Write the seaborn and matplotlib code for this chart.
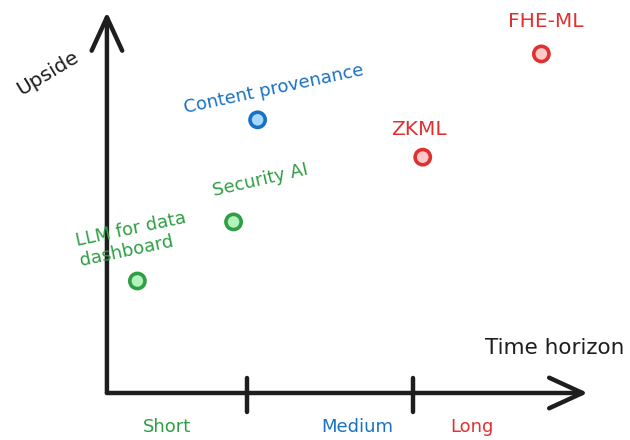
import pandas as pd
import seaborn as sns
import matplotlib.pyplot as plt

# opportunities: time horizon (x) vs upside (y)
names = ['LLM for data\ndashboard', 'Security AI', 'Content provenance', 'ZKML', 'FHE-ML']
horizon = ['Short', 'Short', 'Medium', 'Long', 'Long']
time_x = [0.19, 0.79, 0.94, 1.97, 2.71]
upside_y = [2.94, 4.49, 7.17, 6.19, 8.90]

# boundaries between short / medium / long on the time axis
boundaries = [0.873, 1.909]
horizon_labels = ['Short', 'Medium', 'Long']

edge = {'Short': '#2f9e44', 'Medium': '#1971c2', 'Long': '#e03131'}
fill = {'Short': '#b2f2bb', 'Medium': '#a5d8ff', 'Long': '#ffc9c9'}

df = pd.DataFrame({'name': names, 'horizon': horizon, 'x': time_x, 'y': upside_y})

sns.set_theme(style='white')
plt.rcParams['font.family'] = ['DejaVu Sans']

fig = plt.figure(figsize=(6.3, 4.4), dpi=100)
ax = fig.add_axes([0, 0, 1, 1])
ax.set_xlim(-0.667, 3.263)
ax.set_ylim(-1.234, 10.315)
ax.axis('off')

ink = '#1e1e1e'
arrow = dict(arrowstyle='->,head_length=1.2,head_width=0.55', color=ink, lw=3.2,
             mutation_scale=20, shrinkA=0, shrinkB=0, capstyle='round', joinstyle='round')
ax.annotate('', xy=(3.0, 0), xytext=(0, 0), arrowprops=arrow)
ax.annotate('', xy=(0, 10.0), xytext=(0, 0), arrowprops=arrow)
for b in boundaries:
    ax.plot([b, b], [0.39, -0.50], color=ink, lw=3.2, solid_capstyle='round')

sns.scatterplot(data=df, x='x', y='y', hue='horizon', palette=fill, s=120,
                linewidth=2.6, legend=False, ax=ax, zorder=3)
ax.collections[0].set_edgecolor([edge[h] for h in df['horizon']])

# point labels: offsets (points), rotation and size
offsets = [(-3, 30), (19, 30), (12, 22), (-3, 20), (3, 23)]
rotations = [12, 13, 12, 0, 0]
sizes = [13, 13, 13, 14.5, 14.5]
for (_, r), off, rot, fs in zip(df.iterrows(), offsets, rotations, sizes):
    ax.annotate(r['name'], (r['x'], r['y']), xytext=off, textcoords='offset points',
                ha='center', va='center', multialignment='left', rotation=rot,
                rotation_mode='anchor', color=edge[r['horizon']], fontsize=fs)

ax.text(2.795, 1.18, 'Time horizon', ha='center', va='center', color=ink, fontsize=15.5)
ax.text(-0.368, 8.40, 'Upside', ha='center', va='center', color=ink, fontsize=14.5,
        rotation=31, rotation_mode='anchor')

label_x = [0.374, 1.56, 2.277]
for lx, lab in zip(label_x, horizon_labels):
    ax.text(lx, -0.88, lab, ha='center', va='center', color=edge[lab], fontsize=13)

fig.savefig('out.png', dpi=100)
